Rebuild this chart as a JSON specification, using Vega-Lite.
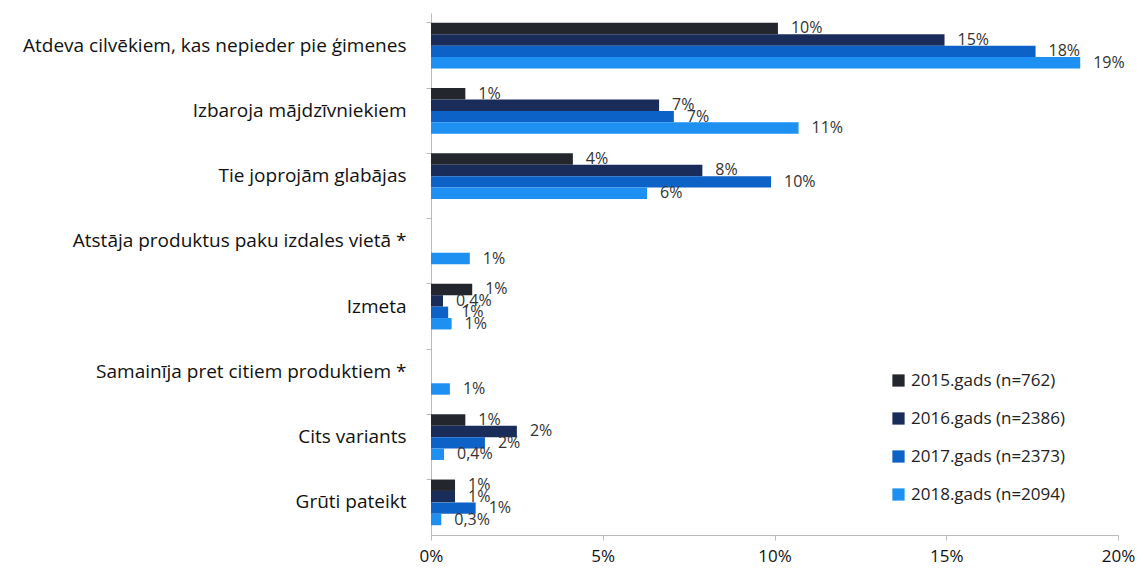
{
  "$schema": "https://vega.github.io/schema/vega-lite/v6.json",
  "autosize": {"type": "none"},
  "width": 687,
  "height": 522,
  "padding": {"left": 431, "top": 13, "right": 28, "bottom": 35},
  "background": "white",
  "data": {
    "values": [
      {"cat": "Atdeva cilvēkiem, kas nepieder pie ģimenes", "year": "2015.gads (n=762)", "value": 10.1, "label": "10%"},
      {"cat": "Atdeva cilvēkiem, kas nepieder pie ģimenes", "year": "2016.gads (n=2386)", "value": 14.95, "label": "15%"},
      {"cat": "Atdeva cilvēkiem, kas nepieder pie ģimenes", "year": "2017.gads (n=2373)", "value": 17.6, "label": "18%"},
      {"cat": "Atdeva cilvēkiem, kas nepieder pie ģimenes", "year": "2018.gads (n=2094)", "value": 18.9, "label": "19%"},
      {"cat": "Izbaroja mājdzīvniekiem", "year": "2015.gads (n=762)", "value": 1.0, "label": "1%"},
      {"cat": "Izbaroja mājdzīvniekiem", "year": "2016.gads (n=2386)", "value": 6.64, "label": "7%"},
      {"cat": "Izbaroja mājdzīvniekiem", "year": "2017.gads (n=2373)", "value": 7.07, "label": "7%"},
      {"cat": "Izbaroja mājdzīvniekiem", "year": "2018.gads (n=2094)", "value": 10.7, "label": "11%"},
      {"cat": "Tie joprojām glabājas", "year": "2015.gads (n=762)", "value": 4.13, "label": "4%"},
      {"cat": "Tie joprojām glabājas", "year": "2016.gads (n=2386)", "value": 7.9, "label": "8%"},
      {"cat": "Tie joprojām glabājas", "year": "2017.gads (n=2373)", "value": 9.9, "label": "10%"},
      {"cat": "Tie joprojām glabājas", "year": "2018.gads (n=2094)", "value": 6.29, "label": "6%"},
      {"cat": "Atstāja produktus paku izdales vietā *", "year": "2018.gads (n=2094)", "value": 1.13, "label": "1%"},
      {"cat": "Izmeta", "year": "2015.gads (n=762)", "value": 1.2, "label": "1%"},
      {"cat": "Izmeta", "year": "2016.gads (n=2386)", "value": 0.35, "label": "0,4%"},
      {"cat": "Izmeta", "year": "2017.gads (n=2373)", "value": 0.5, "label": "1%"},
      {"cat": "Izmeta", "year": "2018.gads (n=2094)", "value": 0.6, "label": "1%"},
      {"cat": "Samainīja pret citiem produktiem *", "year": "2018.gads (n=2094)", "value": 0.55, "label": "1%"},
      {"cat": "Cits variants", "year": "2015.gads (n=762)", "value": 1.0, "label": "1%"},
      {"cat": "Cits variants", "year": "2016.gads (n=2386)", "value": 2.5, "label": "2%"},
      {"cat": "Cits variants", "year": "2017.gads (n=2373)", "value": 1.57, "label": "2%"},
      {"cat": "Cits variants", "year": "2018.gads (n=2094)", "value": 0.38, "label": "0,4%"},
      {"cat": "Grūti pateikt", "year": "2015.gads (n=762)", "value": 0.7, "label": "1%"},
      {"cat": "Grūti pateikt", "year": "2016.gads (n=2386)", "value": 0.7, "label": "1%"},
      {"cat": "Grūti pateikt", "year": "2017.gads (n=2373)", "value": 1.3, "label": "1%"},
      {"cat": "Grūti pateikt", "year": "2018.gads (n=2094)", "value": 0.3, "label": "0,3%"}
    ]
  },
  "encoding": {
    "y": {
      "field": "cat", "type": "nominal", "title": null,
      "sort": ["Atdeva cilvēkiem, kas nepieder pie ģimenes", "Izbaroja mājdzīvniekiem", "Tie joprojām glabājas", "Atstāja produktus paku izdales vietā *", "Izmeta", "Samainīja pret citiem produktiem *", "Cits variants", "Grūti pateikt"],
      "scale": {"paddingInner": 0.3, "paddingOuter": 0.15},
      "axis": {"labelFont": "Open Sans", "labelFontSize": 19, "labelColor": "#111", "labelPadding": 20, "labelLimit": 450, "tickColor": "#bbb", "tickSize": 5, "domainColor": "#bbb", "ticks": true, "bandPosition": 0}
    },
    "yOffset": {"field": "year", "type": "nominal", "sort": ["2015.gads (n=762)", "2016.gads (n=2386)", "2017.gads (n=2373)", "2018.gads (n=2094)"], "scale": {"domain": ["2015.gads (n=762)", "2016.gads (n=2386)", "2017.gads (n=2373)", "2018.gads (n=2094)"], "paddingInner": 0, "paddingOuter": 0}},
    "x": {
      "field": "value", "type": "quantitative", "title": null,
      "scale": {"domain": [0, 20], "nice": false},
      "axis": {"values": [0, 5, 10, 15, 20], "labelExpr": "datum.value + '%'", "labelFlush": false, "grid": false, "labelFont": "Open Sans", "labelFontSize": 17, "labelColor": "#111", "labelPadding": 8, "tickColor": "#bbb", "domainColor": "#bbb", "tickSize": 5}
    }
  },
  "layer": [
    {
      "mark": {"type": "bar"},
      "encoding": {
        "color": {
          "field": "year", "type": "nominal", "title": null,
          "scale": {"domain": ["2015.gads (n=762)", "2016.gads (n=2386)", "2017.gads (n=2373)", "2018.gads (n=2094)"], "range": ["#23272d", "#1a2d5a", "#0d62c8", "#1d90f2"]},
          "legend": {"orient": "none", "legendX": 459, "legendY": 359, "symbolType": "square", "symbolSize": 150, "symbolStrokeWidth": 0, "labelFont": "Open Sans", "labelFontSize": 17, "labelColor": "#222", "rowPadding": 20, "labelLimit": 300}
        }
      }
    },
    {
      "mark": {"type": "text", "align": "left", "baseline": "middle", "dx": 13, "font": "Open Sans", "fontSize": 16, "color": "#333"},
      "encoding": {"text": {"field": "label"}}
    }
  ],
  "config": {"view": {"stroke": null}}
}
